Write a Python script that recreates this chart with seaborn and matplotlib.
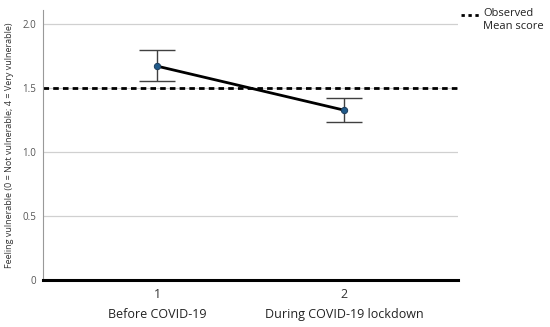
import pandas as pd
import matplotlib.pyplot as plt
import seaborn as sns

# values
time_points = [1, 2]
period_labels = ["Before COVID-19", "During COVID-19 lockdown"]
mean_scores = [1.672, 1.328]
ci_lower = [1.555, 1.234]
ci_upper = [1.797, 1.422]
observed_mean = 1.5
y_ticks = [0, 0.5, 1.0, 1.5, 2.0]
y_tick_labels = ["0", "0.5", "1.0", "1.5", "2.0"]

df = pd.DataFrame({"time": time_points, "score": mean_scores})

sns.set_style("white")
plt.rcParams["font.family"] = ["Open Sans", "DejaVu Sans"]

fig = plt.figure(figsize=(5.5, 3.27), dpi=100)
ax = fig.add_axes([0.078, 0.144, 0.755, 0.825])

# gridlines
for y in y_ticks[1:]:
    ax.axhline(y, color="#d0d0d0", lw=0.9, zorder=0)

# observed mean line
ax.axhline(observed_mean, color="black", lw=2, ls=(0, (2, 1.5)), zorder=2)

# error bars
yerr = [[m - lo for m, lo in zip(mean_scores, ci_lower)],
        [hi - m for m, hi in zip(mean_scores, ci_upper)]]
ax.errorbar(time_points, mean_scores, yerr=yerr, fmt="none", ecolor="#404040",
            elinewidth=1, capsize=13, capthick=1, zorder=3)

sns.lineplot(data=df, x="time", y="score", color="black", lw=2, ax=ax, zorder=4,
             marker="o", markersize=4.5, markerfacecolor="#1f5a8a",
             markeredgecolor="#1f4060")

ax.set_xlim(0.389, 2.611)
ax.set_ylim(0, 2.11)
ax.set_yticks(y_ticks)
ax.set_yticklabels(y_tick_labels, fontsize=7, color="#555555")
ax.set_xticks(time_points)
ax.set_xticklabels([str(t) for t in time_points], fontsize=9, color="#333333")
ax.tick_params(axis="both", length=0, pad=5)
ax.tick_params(axis="x", pad=6)
ax.set_xlabel("")
ax.set_ylabel("Feeling vulnerable (0 = Not vulnerable; 4 = Very vulnerable)",
              fontsize=6.5, color="#333333", labelpad=6)

for t, lab in zip(time_points, period_labels):
    ax.text(t, -0.27, lab, ha="center", va="center", fontsize=9, color="#222222",
            transform=ax.transData, clip_on=False)

for s in ["top", "right"]:
    ax.spines[s].set_visible(False)
ax.spines["left"].set_color("#999999")
ax.spines["left"].set_linewidth(0.8)
ax.spines["bottom"].set_color("black")
ax.spines["bottom"].set_linewidth(2.2)

# legend outside on the right
fig.lines.append(plt.Line2D([0.838, 0.874], [0.953, 0.953], color="black", lw=2,
                            ls=(0, (1.2, 1.3)), transform=fig.transFigure))
fig.text(0.879, 0.975, "Observed\nMean score", ha="left", va="top", fontsize=8,
         color="#222222", linespacing=1.2)

fig.savefig("out.png", dpi=100)
